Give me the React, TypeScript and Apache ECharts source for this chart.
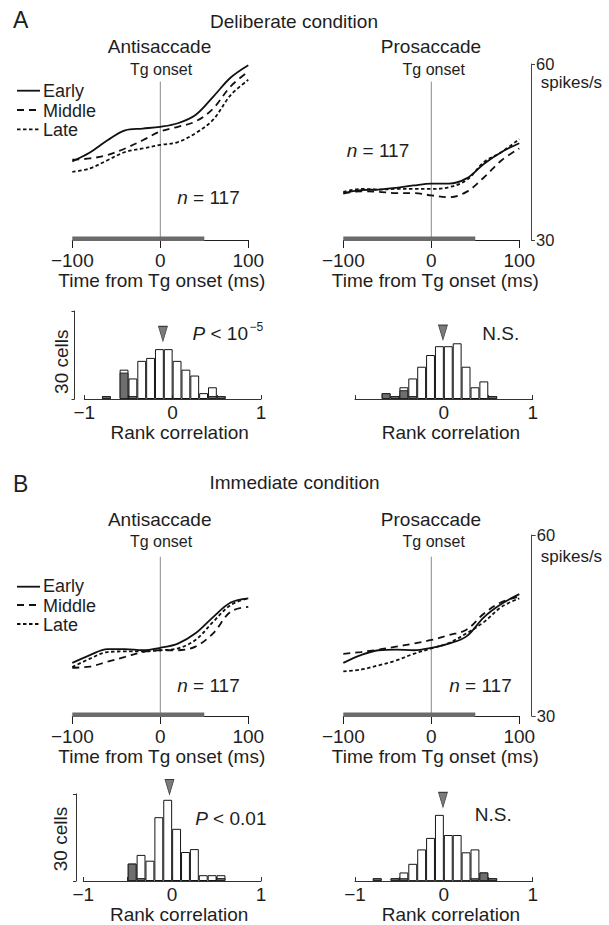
import React, { useEffect, useRef } from 'react';
import * as echarts from 'echarts';

// ---- time course data (spikes/s) ----
const TIMES = [-100, -80, -60, -40, -20, 0, 20, 40, 60, 80, 100];
const A_ANTI_EARLY = [43.4, 44.9, 47.0, 48.7, 49.0, 49.3, 49.9, 51.3, 54.4, 57.7, 59.8];
const A_ANTI_MIDDLE = [43.7, 43.9, 44.5, 45.6, 47.0, 48.5, 49.3, 50.2, 52.4, 56.2, 58.7];
const A_ANTI_LATE = [41.6, 42.2, 43.6, 45.0, 45.6, 46.2, 46.7, 48.2, 50.5, 54.7, 57.3];
const A_PRO_EARLY = [38.0, 38.5, 38.6, 38.9, 39.3, 39.6, 39.6, 40.5, 43.0, 45.0, 46.5];
const A_PRO_MIDDLE = [37.9, 38.3, 38.2, 38.0, 38.0, 37.6, 37.3, 38.2, 40.7, 43.6, 45.6];
const A_PRO_LATE = [38.2, 38.7, 38.6, 38.7, 38.7, 38.7, 39.0, 40.2, 43.3, 45.0, 47.2];
const B_ANTI_EARLY = [38.8, 40.1, 41.1, 41.1, 40.9, 41.3, 42.0, 43.7, 46.4, 48.8, 49.5];
const B_ANTI_MIDDLE = [38.0, 38.2, 39.0, 39.8, 40.6, 40.9, 40.9, 41.5, 43.7, 47.3, 48.1];
const B_ANTI_LATE = [38.1, 39.5, 40.6, 40.7, 40.7, 40.9, 41.2, 42.6, 45.6, 48.4, 49.5];
const B_PRO_EARLY = [38.8, 40.1, 40.9, 41.0, 40.9, 41.3, 42.0, 43.2, 46.4, 48.6, 50.2];
const B_PRO_MIDDLE = [40.3, 40.6, 41.0, 41.5, 42.0, 42.6, 43.4, 44.3, 47.0, 48.9, 49.8];
const B_PRO_LATE = [37.4, 37.7, 38.4, 39.2, 40.3, 41.2, 42.1, 43.7, 45.6, 48.1, 49.5];
const ANALYSIS_WINDOW = [-100, 50];
const LINE_Y_MIN = 30;
const LINE_Y_MAX = 60;
const ZERO_LINE_TOP_A = 57.0;
const ZERO_LINE_TOP_B = 56.4;

// ---- histogram data (cells per bin of rank correlation) ----
const BIN_CENTERS = [-0.75, -0.65, -0.55, -0.45, -0.35, -0.25, -0.15, -0.05, 0.05, 0.15, 0.25, 0.35, 0.45, 0.55];
const A_ANTI_TOTAL = [1, 0, 10, 7, 13, 14, 17, 17, 13, 10, 8, 2, 4, 1];
const A_ANTI_SIG = [1, 0, 9, 1, 0, 0, 0, 0, 0, 0, 0, 0, 1, 1];
const A_PRO_TOTAL = [0, 2, 1, 4, 7, 11, 15, 18, 18, 19, 11, 4, 6, 1];
const A_PRO_SIG = [0, 2, 1, 3, 1, 0, 0, 0, 0, 0, 0, 0, 0, 1];
const B_ANTI_TOTAL = [0, 0, 0, 6, 9, 7, 22, 28, 18, 10, 11, 2, 2, 2];
const B_ANTI_SIG = [0, 0, 0, 6, 1, 0, 0, 0, 0, 0, 0, 0, 0, 1];
const B_PRO_TOTAL = [1, 0, 1, 3, 6, 11, 15, 23, 16, 16, 10, 11, 3, 1];
const B_PRO_SIG = [1, 0, 1, 1, 0, 0, 0, 0, 0, 0, 0, 1, 3, 1];
const MEDIAN_A_ANTI = -0.11;
const MEDIAN_A_PRO = -0.01;
const MEDIAN_B_ANTI = -0.03;
const MEDIAN_B_PRO = -0.01;
const MARKER_LEVEL_A_ANTI = 22.2;
const MARKER_LEVEL_A_PRO = 22.7;
const MARKER_LEVEL_B_ANTI = 32.4;
const MARKER_LEVEL_B_PRO = 28.2;

const FONT = '"Liberation Sans", Arial, Helvetica, sans-serif';
const INK = '#1e1e1e';
const DASH_MIDDLE = [7, 5];
const DASH_LATE = [3.5, 2.5];

const minusFmt = (v: number) => (v < 0 ? '\u2212' + String(-v) : String(v));

function lineGridAxes(isPro: boolean, gridIndex: number, offset: number) {
  const x = {
    type: 'value', gridIndex, min: -100, max: 100, interval: 100,
    axisLine: { show: true, onZero: false, lineStyle: { color: INK, width: 1 } },
    axisTick: { show: true, length: 8, lineStyle: { color: INK, width: 1 } },
    axisLabel: { show: true, fontSize: 19, fontFamily: FONT, color: INK, margin: 11, formatter: minusFmt },
    splitLine: { show: false },
    name: 'Time from Tg onset (ms)', nameLocation: 'middle', nameGap: 30,
    nameTextStyle: { fontSize: 19, fontFamily: FONT, color: INK, padding: isPro ? [0, 0, 0, 8] : [0, 0, 0, 3] },
  };
  const y = {
    type: 'value', gridIndex, min: LINE_Y_MIN, max: LINE_Y_MAX, interval: 30,
    show: isPro, position: 'right', offset,
    axisLine: { show: true, onZero: false, lineStyle: { color: '#444', width: 1 } },
    axisTick: { show: true, length: 4, lineStyle: { color: '#444', width: 1 } },
    axisLabel: { show: true, fontSize: 16.5, fontFamily: FONT, color: INK, margin: 5 },
    splitLine: { show: false },
  };
  return { x, y };
}

function histGridAxes(isPro: boolean, gridIndex: number, offset: number, showMinus: boolean) {
  const x = {
    type: 'value', gridIndex, min: -1, max: 1, interval: 0.5,
    axisLine: { show: true, onZero: false, lineStyle: { color: '#333', width: 1 } },
    axisTick: { show: true, inside: true, length: 4, lineStyle: { color: '#333', width: 1 } },
    axisLabel: {
      show: true, fontSize: 19, fontFamily: FONT, color: INK, margin: 4,
      showMinLabel: true, showMaxLabel: true,
      formatter: (v: number) => (v === -1 ? (showMinus ? '\u22121' : '') : v === 0 ? '0' : v === 1 ? '1' : ''),
    },
    splitLine: { show: false },
    name: 'Rank correlation', nameLocation: 'middle', nameGap: 23,
    nameTextStyle: { fontSize: 19, fontFamily: FONT, color: INK, padding: [0, 0, 0, 14] },
  };
  const y = {
    type: 'value', gridIndex, min: 0, max: 30, interval: 30,
    show: !isPro, position: 'left', offset,
    axisLine: { show: true, onZero: false, lineStyle: { color: '#333', width: 1 } },
    axisTick: { show: true, length: 3, lineStyle: { color: '#333', width: 1 } },
    axisLabel: { show: false },
    splitLine: { show: false },
  };
  return { x, y };
}

function lineSeries(idx: number, early: number[], middle: number[], late: number[], zeroTop: number) {
  const mk = (vals: number[], name: string, dash: any) => ({
    type: 'line', name, xAxisIndex: idx, yAxisIndex: idx, smooth: 0.35, showSymbol: false, silent: true,
    data: TIMES.map((t, i) => [t, vals[i]]),
    lineStyle: { color: '#111', width: 1.8, type: dash },
    z: 4,
  });
  return [
    {
      type: 'line', xAxisIndex: idx, yAxisIndex: idx, showSymbol: false, silent: true,
      data: [[0, LINE_Y_MIN], [0, zeroTop]], lineStyle: { color: '#8a8a8a', width: 1 }, z: 2,
    },
    {
      type: 'line', xAxisIndex: idx, yAxisIndex: idx, showSymbol: false, silent: true,
      data: [[ANALYSIS_WINDOW[0], LINE_Y_MIN + 0.2], [ANALYSIS_WINDOW[1], LINE_Y_MIN + 0.2]],
      lineStyle: { color: '#6b6b6b', width: 4.5, cap: 'butt' }, z: 3,
    },
    mk(early, 'Early', 'solid'),
    mk(middle, 'Middle', DASH_MIDDLE),
    mk(late, 'Late', DASH_LATE),
  ];
}

function histSeries(idx: number, totals: number[], sig: number[], median: number, level: number, barW: number) {
  const toData = (arr: number[]) => BIN_CENTERS.map((c, i) => [c, arr[i]]).filter((d) => d[1] > 0);
  return [
    {
      type: 'bar', xAxisIndex: idx, yAxisIndex: idx, barWidth: barW, barGap: '-100%', silent: true,
      data: toData(totals), itemStyle: { color: '#ffffff', borderColor: '#151515', borderWidth: 1 },
    },
    {
      type: 'bar', xAxisIndex: idx, yAxisIndex: idx, barWidth: barW, barGap: '-100%', silent: true,
      data: toData(sig), itemStyle: { color: '#6e6e6e', borderColor: '#222', borderWidth: 1 },
    },
    {
      type: 'scatter', xAxisIndex: idx, yAxisIndex: idx, clip: false, silent: true,
      symbol: 'triangle', symbolRotate: 180, symbolSize: [9, 15],
      data: [[median, level]], itemStyle: { color: '#5a5a5a', borderColor: '#1a1a1a', borderWidth: 0.8 },
    },
  ];
}

const T = (x: number, y: number, text: string, o: any = {}) => ({
  type: 'text', x, y, rotation: o.rotation || 0, silent: true,
  style: {
    text, fill: INK, fontFamily: FONT, fontSize: o.fontSize || 19,
    align: o.align || 'center', verticalAlign: 'middle',
    fontStyle: o.fontStyle || 'normal', rich: o.rich,
  },
});

const L = (x1: number, x2: number, y: number, dash: any) => ({
  type: 'line', silent: true,
  shape: { x1, y1: y, x2, y2: y },
  style: { stroke: '#111', lineWidth: 1.8, lineDash: dash },
});

const RICH = {
  i: { fontStyle: 'italic', fontSize: 19, fontFamily: FONT, fill: INK, color: INK },
  r: { fontSize: 19, fontFamily: FONT, fill: INK, color: INK },
};

export default function App() {
  const ref = useRef<HTMLDivElement>(null);
  useEffect(() => {
    if (!ref.current) return;
    const chart = echarts.init(ref.current, null, { renderer: 'svg' });

    const grids = [
      { left: 72.3, top: 64, width: 176, height: 176 },
      { left: 343.3, top: 64, width: 176, height: 176 },
      { left: 84.3, top: 311, width: 176.7, height: 88 },
      { left: 355, top: 311, width: 177.7, height: 88 },
      { left: 72.3, top: 535, width: 176, height: 181 },
      { left: 343.3, top: 535, width: 176, height: 181 },
      { left: 83.3, top: 794, width: 177.7, height: 87 },
      { left: 355, top: 794.7, width: 177.7, height: 87 },
    ];
    const ax = [
      lineGridAxes(false, 0, 0),
      lineGridAxes(true, 1, 11.7),
      histGridAxes(false, 2, 9.8, true),
      histGridAxes(true, 3, 0, false),
      lineGridAxes(false, 4, 0),
      lineGridAxes(true, 5, 12.4),
      histGridAxes(false, 6, 7.3, true),
      histGridAxes(true, 7, 0, true),
    ];
    const bw = (g: any) => (g.width * 0.1) / 2;

    const series = [
      ...lineSeries(0, A_ANTI_EARLY, A_ANTI_MIDDLE, A_ANTI_LATE, ZERO_LINE_TOP_A),
      ...lineSeries(1, A_PRO_EARLY, A_PRO_MIDDLE, A_PRO_LATE, ZERO_LINE_TOP_A),
      ...histSeries(2, A_ANTI_TOTAL, A_ANTI_SIG, MEDIAN_A_ANTI, MARKER_LEVEL_A_ANTI, bw(grids[2])),
      ...histSeries(3, A_PRO_TOTAL, A_PRO_SIG, MEDIAN_A_PRO, MARKER_LEVEL_A_PRO, bw(grids[3])),
      ...lineSeries(4, B_ANTI_EARLY, B_ANTI_MIDDLE, B_ANTI_LATE, ZERO_LINE_TOP_B),
      ...lineSeries(5, B_PRO_EARLY, B_PRO_MIDDLE, B_PRO_LATE, ZERO_LINE_TOP_B),
      ...histSeries(6, B_ANTI_TOTAL, B_ANTI_SIG, MEDIAN_B_ANTI, MARKER_LEVEL_B_ANTI, bw(grids[6])),
      ...histSeries(7, B_PRO_TOTAL, B_PRO_SIG, MEDIAN_B_PRO, MARKER_LEVEL_B_PRO, bw(grids[7])),
    ];

    const LEG = 18;
    const graphic = [
      T(13, 20, 'A', { fontSize: 23, align: 'left' }),
      T(294, 21, 'Deliberate condition'),
      T(159.5, 46.7, 'Antisaccade'),
      T(161, 69, 'Tg onset', { fontSize: 16 }),
      T(431, 46.7, 'Prosaccade'),
      T(433.7, 69, 'Tg onset', { fontSize: 16 }),
      L(17, 40, 90.7, null), T(43, 90.8, 'Early', { align: 'left', fontSize: LEG }),
      L(17, 40, 110, DASH_MIDDLE), T(43, 110.8, 'Middle', { align: 'left', fontSize: LEG }),
      L(17, 40, 129.3, DASH_LATE), T(43, 130, 'Late', { align: 'left', fontSize: LEG }),
      T(208.5, 197, '{i|n}{r| = 117}', { fontSize: 18, rich: RICH }),
      T(378, 150, '{i|n}{r| = 117}', { fontSize: 18, rich: RICH }),
      T(540.7, 82, 'spikes/s', { fontSize: 17, align: 'left' }),
      T(61.7, 361.7, '30 cells', { rotation: Math.PI / 2 }),
      T(192.5, 333, '{i|P}{r| < 10}', { align: 'left', rich: RICH }),
      T(249.5, 326.5, '\u22125', { fontSize: 12, align: 'left' }),
      T(500.8, 333.3, 'N.S.'),

      T(13, 484, 'B', { fontSize: 23, align: 'left' }),
      T(294.5, 482.5, 'Immediate condition'),
      T(159.7, 519.7, 'Antisaccade'),
      T(161, 541, 'Tg onset', { fontSize: 16 }),
      T(431, 519.7, 'Prosaccade'),
      T(433.7, 541, 'Tg onset', { fontSize: 16 }),
      L(17, 40, 586.7, null), T(43, 586.3, 'Early', { align: 'left', fontSize: LEG }),
      L(17, 40, 605, DASH_MIDDLE), T(43, 605.5, 'Middle', { align: 'left', fontSize: LEG }),
      L(17, 40, 624, DASH_LATE), T(43, 624.5, 'Late', { align: 'left', fontSize: LEG }),
      T(208.5, 685.5, '{i|n}{r| = 117}', { fontSize: 18, rich: RICH }),
      T(480.5, 685.5, '{i|n}{r| = 117}', { fontSize: 18, rich: RICH }),
      T(540.7, 556, 'spikes/s', { fontSize: 17, align: 'left' }),
      T(60.8, 839, '30 cells', { rotation: Math.PI / 2 }),
      T(230.8, 818.3, '{i|P}{r| < 0.01}', { rich: RICH }),
      T(493.3, 814, 'N.S.'),
    ];

    chart.setOption({
      animation: false,
      backgroundColor: '#ffffff',
      textStyle: { fontFamily: FONT },
      grid: grids.map((g) => ({ ...g, containLabel: false })),
      xAxis: ax.map((a) => a.x),
      yAxis: ax.map((a) => a.y),
      series,
      graphic,
    });
    return () => chart.dispose();
  }, []);
  return (
    <div
      ref={ref}
      style={{ position: 'absolute', left: 0, top: 0, width: 609, height: 925, background: '#fff' }}
    />
  );
}
